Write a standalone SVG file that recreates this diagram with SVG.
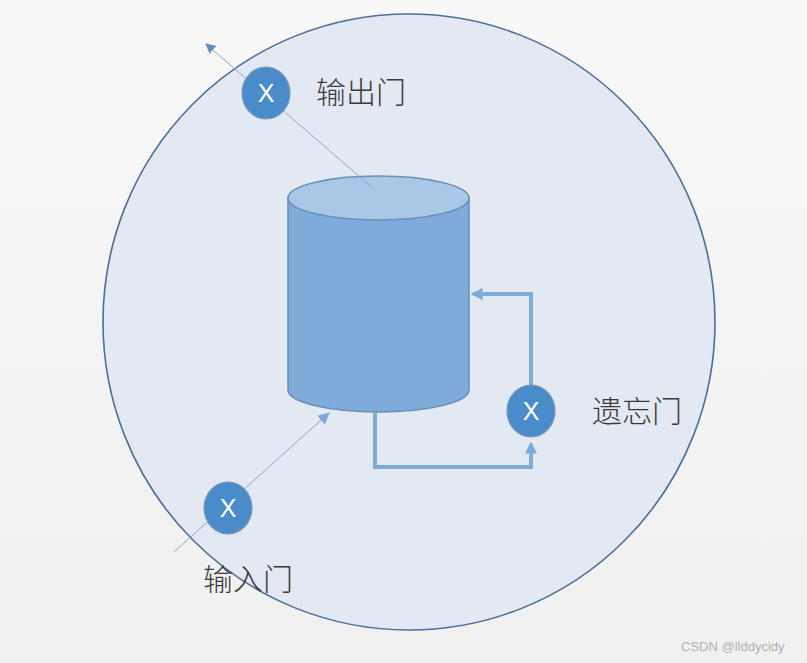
<svg xmlns="http://www.w3.org/2000/svg" width="807" height="663" viewBox="0 0 807 663">
<defs>
<linearGradient id="bg" x1="0" y1="0" x2="0" y2="1">
<stop offset="0" stop-color="#f8f8f8"/>
<stop offset="1" stop-color="#f0f0f0"/>
</linearGradient>
<marker id="thin" viewBox="0 0 10 10" refX="9" refY="5" markerWidth="10" markerHeight="10" markerUnits="userSpaceOnUse" orient="auto">
<path d="M0,0 L10,5 L0,10 z" fill="#5b8fc9"/>
</marker>
<marker id="thinIn" viewBox="0 0 10 10" refX="9" refY="5" markerWidth="12" markerHeight="12" markerUnits="userSpaceOnUse" orient="auto">
<path d="M0,0 L10,5 L0,10 z" fill="#7eabd9"/>
</marker>
<marker id="thick" viewBox="0 0 10 10" refX="8" refY="5" markerWidth="3" markerHeight="3" orient="auto">
<path d="M0,0 L10,5 L0,10 z" fill="#7eabd9"/>
</marker>
</defs>
<style>
.gate{fill:#4a8cc9;stroke:#7f98b3;stroke-width:1.2}
.x{font-family:"Liberation Sans",Arial,sans-serif;font-size:25px;fill:#ffffff;text-anchor:middle}
.lbl{font-family:"Noto Sans CJK SC","Liberation Sans",sans-serif;font-size:30px;font-weight:300;fill:#3a3a3a}
.thinline{stroke:#7eabd9;stroke-width:1;fill:none}
.thickline{stroke:#7eabd9;stroke-width:4;fill:none}
</style>
<rect width="807" height="663" fill="url(#bg)"/>
<g id="cell">
<ellipse cx="409" cy="322" rx="306" ry="308" fill="#e2e9f2" stroke="#4a6f9a" stroke-width="1.6"/>
</g>
<g id="memory">
<path d="M288,198 L288,390 A90.5,22 0 0 0 469,390 L469,198 Z" fill="#7eabd9" stroke="#6a8fb8" stroke-width="1.5"/>
<ellipse cx="378.5" cy="198" rx="90.5" ry="22" fill="#a9c7e7" stroke="#6a8fb8" stroke-width="1.5"/>
</g>
<g id="connectors">
<line class="thinline" x1="375" y1="190" x2="206" y2="44" marker-end="url(#thin)"/>
<line class="thinline" x1="174" y1="552" x2="329" y2="413" marker-end="url(#thinIn)"/>
<path class="thickline" d="M375,412 L375,467 L531,467 L531,444" marker-end="url(#thick)"/>
<path class="thickline" d="M531,386 L531,294 L473,294" marker-end="url(#thick)"/>
</g>
<g id="output-gate">
<ellipse class="gate" cx="266" cy="93" rx="24" ry="26"/>
<text class="x" x="266" y="102">X</text>
<text class="lbl" x="316" y="103">输出门</text>
</g>
<g id="input-gate">
<ellipse class="gate" cx="228" cy="508" rx="24" ry="26"/>
<text class="x" x="228" y="517">X</text>
<text class="lbl" x="203" y="590">输入门</text>
</g>
<g id="forget-gate">
<ellipse class="gate" cx="531" cy="411" rx="24" ry="26"/>
<text class="x" x="531" y="420">X</text>
<text class="lbl" x="592" y="422">遗忘门</text>
</g>
<text x="681" y="651" font-family="Liberation Sans,Arial,sans-serif" font-size="13" fill="#b0b0b0">CSDN @llddycidy</text>
</svg>
